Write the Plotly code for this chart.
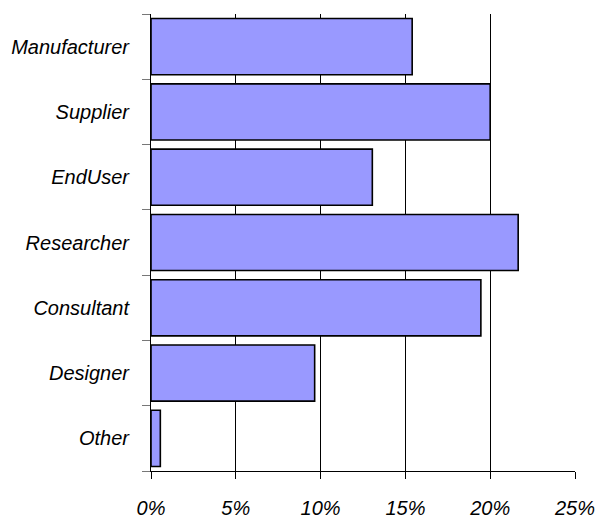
import plotly.graph_objects as go

categories = ["Manufacturer", "Supplier", "EndUser", "Researcher", "Consultant", "Designer", "Other"]
values = [15.4, 20.0, 13.05, 21.65, 19.45, 9.65, 0.55]
x_ticks = [0, 5, 10, 15, 20, 25]
x_tick_labels = ["0%", "5%", "10%", "15%", "20%", "25%"]

font_family = "Liberation Sans, Arial, sans-serif"

fig = go.Figure()
fig.add_trace(go.Bar(
    y=categories, x=values, orientation="h",
    marker=dict(color="#9999FF", line=dict(color="black", width=1.6)),
    width=0.86,
))

fig.update_layout(
    width=596, height=523,
    margin=dict(l=151, r=21, t=14, b=52),
    paper_bgcolor="white", plot_bgcolor="white",
    showlegend=False,
    font=dict(family=font_family, color="black"),
)
fig.update_xaxes(
    range=[0, 25], tickvals=x_ticks, ticktext=x_tick_labels,
    automargin=False,
    showgrid=True, gridcolor="black", gridwidth=1,
    zeroline=False,
    showline=True, linecolor="black", linewidth=1,
    ticks="outside", ticklen=7, tickcolor="black",
    tickfont=dict(size=20, family=font_family, style="italic"),
    ticklabelstandoff=12,
)
fig.update_yaxes(
    categoryorder="array", categoryarray=categories[::-1],
    tickson="boundaries",
    automargin=False,
    showline=True, linecolor="black", linewidth=1,
    ticks="outside", ticklen=8, tickcolor="#777777",
    showgrid=False,
    tickfont=dict(size=20, family=font_family, style="italic"),
    ticklabelstandoff=17,
)

fig.write_html("out.html")
